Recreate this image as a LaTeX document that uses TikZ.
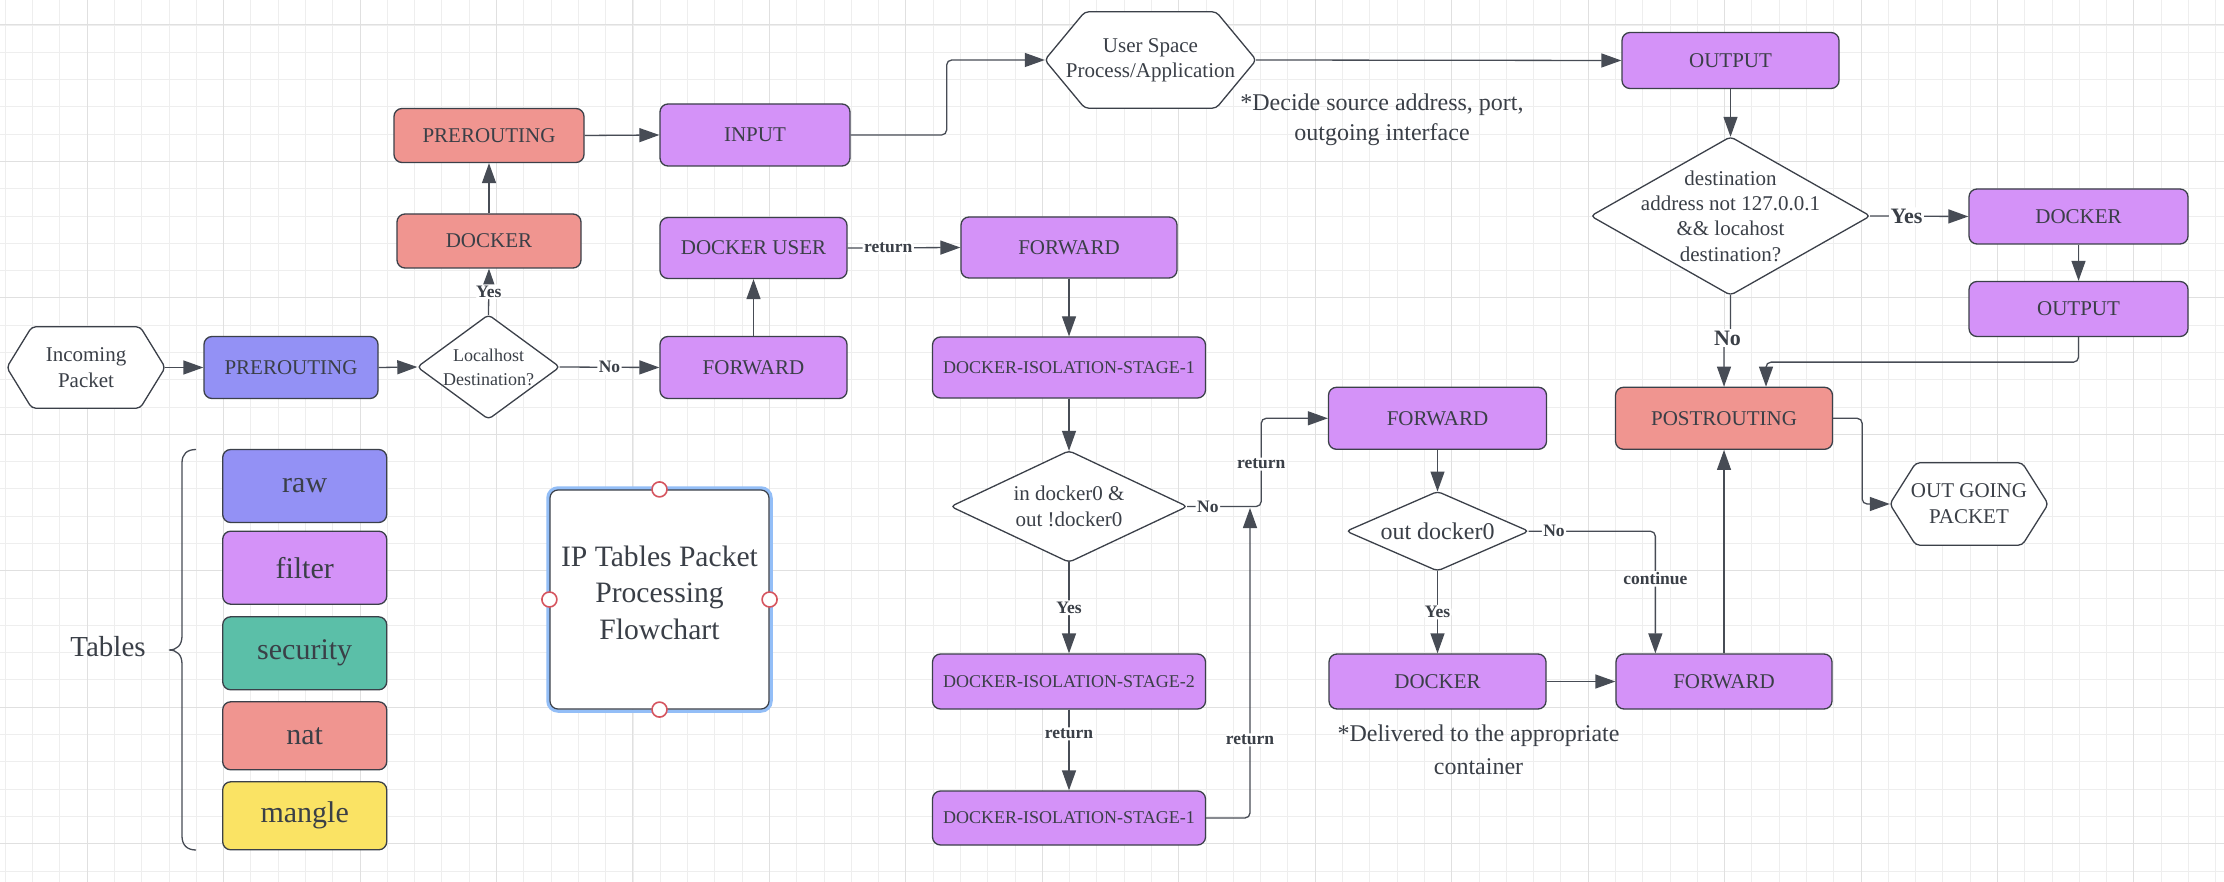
\documentclass[tikz,border=0pt]{standalone}
\usepackage{fontspec}
\setmainfont{Liberation Serif}
\usetikzlibrary{arrows.meta,calc}
\definecolor{ink}{HTML}{3B4049}
\definecolor{wire}{HTML}{474C55}
\definecolor{txt}{HTML}{3A3F47}
\definecolor{cblue}{HTML}{9391F5}
\definecolor{cpurple}{HTML}{D492F8}
\definecolor{cteal}{HTML}{5BBFA8}
\definecolor{csalmon}{HTML}{F09590}
\definecolor{cyellow}{HTML}{FAE364}
\definecolor{gridminor}{HTML}{EEEEEE}
\definecolor{gridmajor}{HTML}{E0E0E0}
\definecolor{selblue}{HTML}{93BEF7}
\definecolor{handred}{HTML}{D6545E}
\pgfdeclarelayer{grid}
\pgfdeclarelayer{shapes}
\pgfsetlayers{grid,shapes,main}
\tikzset{
  box/.style={draw=ink, line width=1.3pt, rounded corners=8pt, text=txt,
    font=\fontsize{21}{25}\selectfont, inner sep=0pt, align=center},
  isobox/.style={box, fill=cpurple, font=\fontsize{18}{22}\selectfont},
  frame/.style={inner sep=0pt, text=txt, align=center, font=\fontsize{21}{25.3}\selectfont},
  outline/.style={draw=ink, line width=1.3pt, fill=white, rounded corners=4pt},
  conn/.style={draw=wire, line width=1.3pt, rounded corners=5pt},
  arr/.style={conn, -{Triangle[length=20pt,width=14pt]}},
  lbl/.style={fill=white, inner sep=1.5pt, text=txt, font=\bfseries\fontsize{17.5}{20}\selectfont},
  biglbl/.style={lbl, font=\bfseries\fontsize{22}{24}\selectfont},
  note/.style={text=txt, align=center, inner sep=0pt},
  legend/.style={box, font=\fontsize{30}{34}\selectfont, minimum width=164pt},
}
\begin{document}
\begin{tikzpicture}[x=1pt,y=-1pt]
\useasboundingbox (0,0) rectangle (2224,882);
\begin{pgfonlayer}{grid}
  \fill[white] (0,0) rectangle (2224,882);
  \foreach \i in {0,...,81} \draw[gridminor,line width=0.9pt] ({5.3+\i*27.29},0) -- ({5.3+\i*27.29},882);
  \foreach \j in {1,...,32} \draw[gridminor,line width=0.9pt] (0,{-2.33+\j*27.29}) -- (2224,{-2.33+\j*27.29});
  \foreach \i in {3,8,...,78} \draw[gridmajor,line width=1pt] ({5.3+\i*27.29},0) -- ({5.3+\i*27.29},882);
  \foreach \j in {1,6,...,31} \draw[gridmajor,line width=1pt] (0,{-2.33+\j*27.29}) -- (2224,{-2.33+\j*27.29});
\end{pgfonlayer}

% ---------- left flow ----------
\node[frame, minimum width=158pt, minimum height=81pt] (inc) at (86,367.5) {Incoming\\Packet};
\node[box, fill=cblue, minimum width=174pt, minimum height=62pt] (pre1) at (291,367.5) {PREROUTING};
\node[frame, font=\fontsize{18}{24}\selectfont, minimum width=142pt, minimum height=104pt] (loc) at (488.5,367) {Localhost\\Destination?};
\node[box, fill=cpurple, minimum width=187pt, minimum height=62pt] (fwd1) at (753.5,367.5) {FORWARD};
\node[box, fill=cpurple, minimum width=187pt, minimum height=61pt] (dusr) at (753.5,248) {DOCKER USER};
\node[box, fill=cpurple, minimum width=190pt, minimum height=62pt] (inp) at (755,135) {INPUT};
\node[box, fill=csalmon, minimum width=184pt, minimum height=54pt] (dck1) at (489,241) {DOCKER};
\node[box, fill=csalmon, minimum width=190pt, minimum height=54pt] (pre2) at (489,135.5) {PREROUTING};

% ---------- top / right ----------
\node[frame, minimum width=211pt, minimum height=96pt] (usr) at (1150.5,60) {User Space\\Process/Application};
\node[box, fill=cpurple, minimum width=217pt, minimum height=56pt] (out1) at (1730.5,60.5) {OUTPUT};
\node[frame, minimum width=279pt, minimum height=158pt] (bigd) at (1730.5,216) {destination\\address not 127.0.0.1\\\&\& locahost\\destination?};
\node[box, fill=cpurple, minimum width=219pt, minimum height=55pt] (dck3) at (2078.5,216.5) {DOCKER};
\node[box, fill=cpurple, minimum width=219pt, minimum height=55pt] (out2) at (2078.5,309) {OUTPUT};
\node[box, fill=csalmon, minimum width=217pt, minimum height=62pt] (post) at (1724,418.3) {POSTROUTING};
\node[frame, font=\fontsize{21}{26}\selectfont, minimum width=158pt, minimum height=82pt] (ogp) at (1969,504) {OUT GOING\\PACKET};

% ---------- middle column ----------
\node[box, fill=cpurple, minimum width=216pt, minimum height=61pt] (fwd2) at (1069,247.5) {FORWARD};
\node[isobox, minimum width=273pt, minimum height=61pt] (dis1) at (1069,367.5) {DOCKER-ISOLATION-STAGE-1};
\node[frame, minimum width=236pt, minimum height=111pt] (ind) at (1069,506.5) {in docker0 \&\\out !docker0};
\node[isobox, minimum width=273pt, minimum height=55pt] (dis2) at (1069,681.5) {DOCKER-ISOLATION-STAGE-2};
\node[isobox, minimum width=273pt, minimum height=54pt] (dis3) at (1069,818) {DOCKER-ISOLATION-STAGE-1};

% ---------- third column ----------
\node[box, fill=cpurple, minimum width=218pt, minimum height=62pt] (fwd3) at (1437.5,418.3) {FORWARD};
\node[frame, font=\fontsize{24}{28}\selectfont, minimum width=182pt, minimum height=79pt] (outd) at (1437.5,531.2) {out docker0};
\node[box, fill=cpurple, minimum width=217pt, minimum height=55pt] (dck2) at (1437.5,681.5) {DOCKER};
\node[box, fill=cpurple, minimum width=216pt, minimum height=55pt] (fwd4) at (1724,681.5) {FORWARD};

% ---------- outlines of diamonds and hexagons ----------
\begin{pgfonlayer}{shapes}
  \foreach \d in {loc,bigd,ind,outd}
    \draw[outline] (\d.north) -- (\d.east) -- (\d.south) -- (\d.west) -- cycle;
  \draw[outline] (inc.west) -- ($(inc.north west)+(25,0)$) -- ($(inc.north east)+(-25,0)$) -- (inc.east)
     -- ($(inc.south east)+(-25,0)$) -- ($(inc.south west)+(25,0)$) -- cycle;
  \draw[outline] (usr.west) -- ($(usr.north west)+(40,0)$) -- ($(usr.north east)+(-40,0)$) -- (usr.east)
     -- ($(usr.south east)+(-40,0)$) -- ($(usr.south west)+(40,0)$) -- cycle;
  \draw[outline] (ogp.west) -- ($(ogp.north west)+(26,0)$) -- ($(ogp.north east)+(-26,0)$) -- (ogp.east)
     -- ($(ogp.south east)+(-26,0)$) -- ($(ogp.south west)+(26,0)$) -- cycle;
\end{pgfonlayer}

% ---------- connectors ----------
\draw[arr] (inc.east) -- (pre1.west);
\draw[arr] (pre1.east) -- (loc.west);
\draw[arr] (loc.east) -- node[lbl]{No} (fwd1.west);
\draw[arr] (loc.north) -- node[lbl]{Yes} (dck1.south);
\draw[arr] (dck1.north) -- (pre2.south);
\draw[arr] (pre2.east) -- (inp.west);
\draw[arr] (inp.east) -- ++(96,0) |- (usr.west);
\draw[arr] (usr.east) -- (out1.west);
\draw[arr] (out1.south) -- (bigd.north);
\draw[arr] (bigd.east) -- node[biglbl,pos=0.37]{Yes} (dck3.west);
\draw[arr] (dck3.south) -- (out2.north);
\draw[arr] (out2.south) -- ++(0,25) -| ($(post.north)+(42,0)$);
\draw[arr] (bigd.south) -- ++(0,43) coordinate (nojog) -| (post.north);
\node[biglbl] at ($(nojog)+(-3,0)$) {No};
\draw[arr] (post.east) -- ++(29,0) |- (ogp.west);
\draw[arr] (fwd1.north) -- (dusr.south);
\draw[arr] (dusr.east) -- node[lbl,pos=0.36]{return} (fwd2.west);
\draw[arr] (fwd2.south) -- (dis1.north);
\draw[arr] (dis1.south) -- (ind.north);
\draw[arr] (ind.south) -- node[lbl]{Yes} (dis2.north);
\draw[arr] (dis2.south) -- node[lbl,pos=0.3]{return} (dis3.north);
\coordinate (retend) at (1250,508);
\draw[arr] (dis3.east) -| node[lbl,pos=0.626]{return} (retend);
\draw[arr] (ind.east) -- node[lbl,pos=0.28]{No} ++(74,0) |- node[lbl,pos=0.24]{return} (fwd3.west);
\draw[arr] (fwd3.south) -- (outd.north);
\draw[arr] (outd.south) -- node[lbl]{Yes} (dck2.north);
\draw[arr] (dck2.east) -- (fwd4.west);
\draw[arr] (outd.east) -| node[lbl,pos=0.1]{No} node[lbl,pos=0.695]{continue} ($(fwd4.north west)+(40,0)$);
\draw[arr] (fwd4.north) -- (post.south);

% ---------- notes ----------
\node[note, font=\fontsize{24}{30}\selectfont] (n1) at (1382,120) {*Decide source address, port,\\outgoing interface};
\node[note, font=\fontsize{24}{32.7}\selectfont] (n2) at (1478.5,750) {*Delivered to the appropriate\\container};

% ---------- legend ----------
\node[legend, fill=cblue, minimum height=73pt] (raw) at (304.7,486) {raw};
\node[legend, fill=cpurple, minimum height=73pt] (filt) at (304.7,567.7) {filter};
\node[legend, fill=cteal, minimum height=73pt] (sec) at (304.7,653.3) {security};
\node[legend, fill=csalmon, minimum height=68pt] (nat) at (304.7,735.8) {nat};
\node[legend, fill=cyellow, minimum height=68pt] (mng) at (304.7,815.8) {mangle};
\draw[wire, line width=1.3pt] (196,449.5) .. controls (187,449.5) and (182,454) .. (182,463)
  -- (182,636) .. controls (182,645) and (177,650) .. (169,650)
  .. controls (177,650) and (182,655) .. (182,664)
  -- (182,836) .. controls (182,845) and (187,850) .. (196,850);
\node[note, font=\fontsize{29}{34}\selectfont] (tbl) at (108,647) {Tables};

% ---------- title ----------
\draw[selblue, line width=3.5pt, rounded corners=10pt] (548,488) rectangle (771,711);
\node[draw=ink, line width=1.2pt, fill=white, rounded corners=8pt, minimum width=219pt, minimum height=219pt] (ttl) at (659.5,599.5) {};
\node[note, font=\fontsize{29.6}{36.5}\selectfont] (ttltxt) at ($(ttl.center)+(0,-7)$) {IP Tables Packet\\Processing\\Flowchart};
\foreach \a in {north,south,east,west}
  \draw[handred, line width=1.6pt, fill=white] (ttl.\a) circle (7.5pt);
\end{tikzpicture}
\end{document}
